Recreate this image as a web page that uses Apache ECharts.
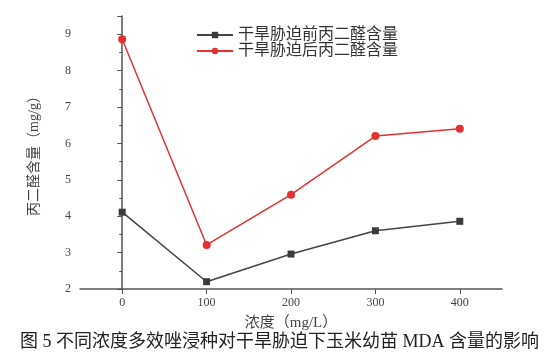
<!DOCTYPE html>
<html><head><meta charset="utf-8">
<script src="https://cdn.jsdelivr.net/npm/echarts@6/dist/echarts.min.js"></script>
<style>html,body{margin:0;padding:0;background:#fff}#c{width:559px;height:359px}</style>
</head><body><div id="c"></div>
<script>
const concentrations = [0, 100, 200, 300, 400];
const beforeMDA = [4.11, 2.2, 2.96, 3.6, 3.86];
const afterMDA = [8.86, 3.21, 4.59, 6.2, 6.4];
const yTicks = [2, 3, 4, 5, 6, 7, 8, 9];
const seriesNames = ['干旱胁迫前丙二醛含量', '干旱胁迫后丙二醛含量'];
const xName = '浓度（mg/L）';
const yName = '丙二醛含量（mg/g）';
const caption = '图 5 不同浓度多效唑浸种对干旱胁迫下玉米幼苗 MDA 含量的影响';
const FONT = '"Liberation Serif", "Noto Sans CJK SC", serif';

const chart = echarts.init(document.getElementById('c'), null, {renderer: 'canvas'});
chart.setOption({
  animation: false,
  backgroundColor: '#fff',
  grid: {left: 80, right: 57, top: 16, bottom: 70},
  legend: {
    left: 191, top: 22, orient: 'vertical', itemWidth: 36, itemHeight: 8, itemGap: 0,
    textStyle: {fontFamily: FONT, fontSize: 16, color: '#333'},
    data: seriesNames
  },
  title: {
    text: caption, left: 'center', bottom: 3,
    textStyle: {fontFamily: FONT, fontSize: 18, fontWeight: 'normal', color: '#222'}
  },
  xAxis: {
    type: 'value', min: -50, max: 450, interval: 100,
    name: xName, nameLocation: 'middle', nameGap: 27,
    nameTextStyle: {fontFamily: FONT, fontSize: 15, color: '#444'},
    axisLine: {show: true, lineStyle: {color: '#555', width: 1.5}},
    axisTick: {show: true, length: 5, lineStyle: {color: '#555'}, customValues: concentrations},
    minorTick: {show: true, splitNumber: 2, length: 3, lineStyle: {color: '#555'}},
    axisLabel: {fontFamily: FONT, fontSize: 12, color: '#444', margin: 8, customValues: concentrations},
    splitLine: {show: false}
  },
  yAxis: {
    type: 'value', min: 2, max: 9.5, interval: 1,
    name: yName, nameLocation: 'middle', nameGap: 39, nameRotate: 90,
    nameTextStyle: {fontFamily: FONT, fontSize: 14, color: '#444'},
    axisLine: {show: true, lineStyle: {color: '#555', width: 1.5}},
    axisTick: {show: true, length: 5, lineStyle: {color: '#555'}},
    minorTick: {show: true, splitNumber: 2, length: 3, lineStyle: {color: '#555'}},
    axisLabel: {fontFamily: FONT, fontSize: 12, color: '#444', margin: 9, customValues: yTicks},
    splitLine: {show: false}
  },
  series: [
    {
      name: seriesNames[0], type: 'line', symbol: 'rect', symbolSize: 7,
      data: concentrations.map((x, i) => [x, beforeMDA[i]]),
      lineStyle: {color: '#444', width: 1.5},
      itemStyle: {color: '#3a3a3a'}
    },
    {
      name: seriesNames[1], type: 'line', symbol: 'circle', symbolSize: 8,
      data: concentrations.map((x, i) => [x, afterMDA[i]]),
      lineStyle: {color: '#e53030', width: 1.5},
      itemStyle: {color: '#e53030'}
    }
  ]
});
</script></body></html>
